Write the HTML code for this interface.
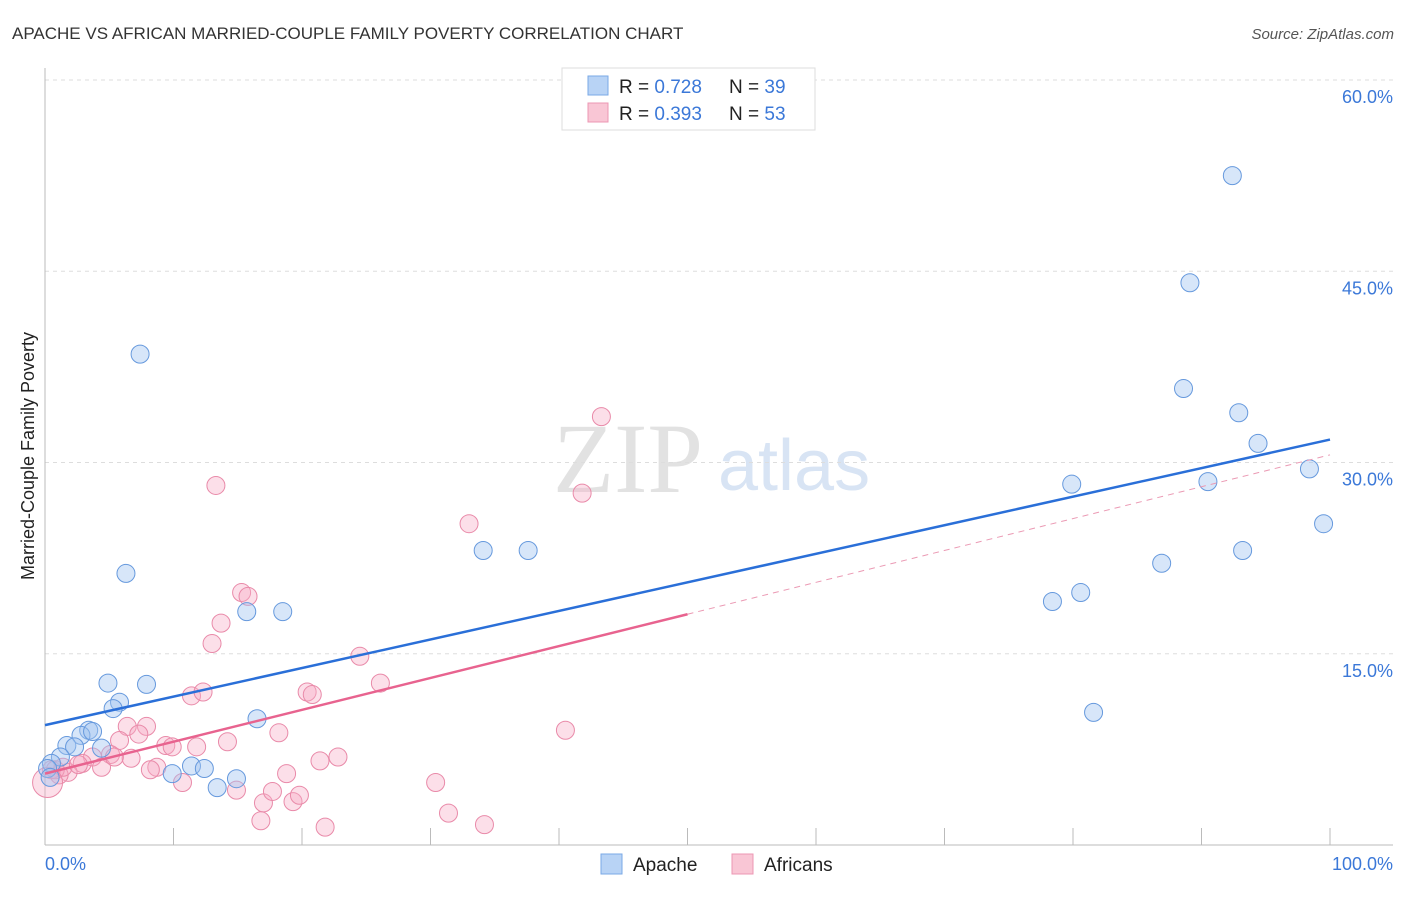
<!DOCTYPE html>
<html><head><meta charset="utf-8"><style>
body{margin:0;background:#fff;font-family:"Liberation Sans",sans-serif;}
</style></head><body>
<svg id="chart" width="1406" height="892" xmlns="http://www.w3.org/2000/svg" font-family="Liberation Sans, sans-serif">
<text x="12" y="39" font-size="17" fill="#333">APACHE VS AFRICAN MARRIED-COUPLE FAMILY POVERTY CORRELATION CHART</text>
<text x="1394" y="39" font-size="15" fill="#555" font-style="italic" text-anchor="end">Source: ZipAtlas.com</text>
<text x="34" y="456" font-size="18" fill="#222" text-anchor="middle" transform="rotate(-90 34 456)">Married-Couple Family Poverty</text>
<text x="553" y="492" font-size="100" fill="#e2e2e2" style="font-family:'Liberation Serif',serif">ZIP</text>
<text x="718" y="490" font-size="72" fill="#d8e4f4">atlas</text>
<g id="grid"></g>
<g id="pts"></g>
<g>
<rect x="562" y="68" width="253" height="62" fill="#fff" stroke="#ddd"/>
<rect x="588" y="76" width="20" height="19" fill="#b8d3f5" stroke="#7aa8e6"/>
<rect x="588" y="103" width="20" height="19" fill="#f9c6d5" stroke="#ec97b3"/>
<text x="619" y="93" font-size="19" fill="#222">R = <tspan fill="#3b78d8">0.728</tspan></text>
<text x="729" y="93" font-size="19" fill="#222">N = <tspan fill="#3b78d8">39</tspan></text>
<text x="619" y="120" font-size="19" fill="#222">R = <tspan fill="#3b78d8">0.393</tspan></text>
<text x="729" y="120" font-size="19" fill="#222">N = <tspan fill="#3b78d8">53</tspan></text>
</g>
<g>
<rect x="601" y="854" width="21" height="20" fill="#b8d3f5" stroke="#7aa8e6"/>
<text x="633" y="871" font-size="19" fill="#222">Apache</text>
<rect x="732" y="854" width="21" height="20" fill="#f9c6d5" stroke="#ec97b3"/>
<text x="764" y="871" font-size="19" fill="#222">Africans</text>
</g>
<text x="45" y="870" font-size="18" fill="#3b78d8">0.0%</text>
<text x="1393" y="870" font-size="18" fill="#3b78d8" text-anchor="end">100.0%</text>
</svg>
<script>
const yTicks=[15,30,45,60];
const yTickLabels=["15.0%","30.0%","45.0%","60.0%"];
const xTicks=[10,20,30,40,50,60,70,80,90,100];
const apacheX=[7.4,6.3,15.7,18.5,4.9,7.9,5.8,5.3,3.4,2.8,3.7,1.7,2.3,4.4,1.2,0.5,0.2,0.4,16.5,9.9,11.4,12.4,13.4,14.9,34.1,37.6,92.4,89.1,88.6,92.9,94.4,79.9,90.5,98.4,99.5,86.9,93.2,78.4,80.6,81.6];
const apacheY=[38.5,21.3,18.3,18.3,12.7,12.6,11.2,10.7,9.0,8.6,8.9,7.8,7.7,7.6,6.9,6.4,6.0,5.3,9.9,5.6,6.2,6.0,4.5,5.2,23.1,23.1,52.5,44.1,35.8,33.9,31.5,28.3,28.5,29.5,25.2,22.1,23.1,19.1,19.8,10.4];
const africansX=[13.3,15.3,15.8,13.7,13.0,24.5,11.4,12.3,20.4,20.8,26.1,6.4,7.9,7.3,5.8,9.4,9.9,11.8,14.2,18.2,5.1,6.7,3.7,4.4,2.9,1.8,1.1,0.5,8.7,8.2,10.7,14.9,17.0,17.7,18.8,19.3,19.8,21.4,22.8,16.8,21.8,30.4,31.4,34.2,40.5,41.8,43.3,33.0,0.8,1.4,2.6,5.4,0.2];
const africansY=[28.2,19.8,19.5,17.4,15.8,14.8,11.7,12.0,12.0,11.8,12.7,9.3,9.3,8.7,8.2,7.8,7.7,7.7,8.1,8.8,7.1,6.8,6.9,6.1,6.4,5.7,5.5,5.9,6.1,5.9,4.9,4.3,3.3,4.2,5.6,3.4,3.9,6.6,6.9,1.9,1.4,4.9,2.5,1.6,9.0,27.6,33.6,25.2,5.9,6.1,6.3,6.9,4.9];
const apacheTrend=[9.4,31.8];
const africansTrend=[5.6,30.6];
const africansSolidEnd=50;

const NS="http://www.w3.org/2000/svg";
const X0=45,X1=1330,Y0=845,YPER=12.75;
const sx=v=>X0+(X1-X0)*v/100;
const sy=v=>Y0-v*YPER;
function mk(tag,attrs,parent){const e=document.createElementNS(NS,tag);for(const k in attrs)e.setAttribute(k,attrs[k]);parent.appendChild(e);return e;}
const grid=document.getElementById('grid');
yTicks.forEach((t,i)=>{
  const l=mk('line',{x1:45,x2:1393,y1:sy(t),y2:sy(t),stroke:'#ddd','stroke-dasharray':'4,4'},grid);
  
  
  const tx=mk('text',{x:1393,y:sy(t)+23,'font-size':18,fill:'#3b78d8','text-anchor':'end'},grid);
  tx.textContent=yTickLabels[i];
  
  
});
const ax=mk('line',{x1:45,x2:45,y1:68,y2:845,stroke:'#bbb'},grid);


const bx=mk('line',{x1:45,x2:1393,y1:845,y2:845,stroke:'#bbb'},grid);


xTicks.forEach(t=>{
  const l=mk('line',{x1:sx(t),x2:sx(t),y1:828,y2:845,stroke:'#bbb'},grid);
  
  
});
const pts=document.getElementById('pts');
function dots(xs,ys,fill,stroke,name){
  xs.forEach((x,i)=>{
    const big=(name==='africans-point'&&i===xs.length-1);
    const c=mk('circle',{cx:sx(x),cy:sy(ys[i]),r:big?15:9,fill:fill,stroke:stroke,'stroke-width':1},pts);
    
    
  });
}
dots(africansX,africansY,'rgba(247,172,196,0.38)','#e98aa9','africans-point');
dots(apacheX,apacheY,'rgba(160,195,240,0.42)','#6699dd','apache-point');
const mid=africansTrend[0]+(africansTrend[1]-africansTrend[0])*africansSolidEnd/100;
const pl=mk('line',{x1:sx(0),y1:sy(africansTrend[0]),x2:sx(africansSolidEnd),y2:sy(mid),stroke:'#e8638f','stroke-width':2.5},pts);


const pd=mk('line',{x1:sx(africansSolidEnd),y1:sy(mid),x2:sx(100),y2:sy(africansTrend[1]),stroke:'#eb9ab4','stroke-width':1,'stroke-dasharray':'6,5'},pts);


const bl=mk('line',{x1:sx(0),y1:sy(apacheTrend[0]),x2:sx(100),y2:sy(apacheTrend[1]),stroke:'#2a6fd8','stroke-width':2.5},pts);


</script>
</body></html>
